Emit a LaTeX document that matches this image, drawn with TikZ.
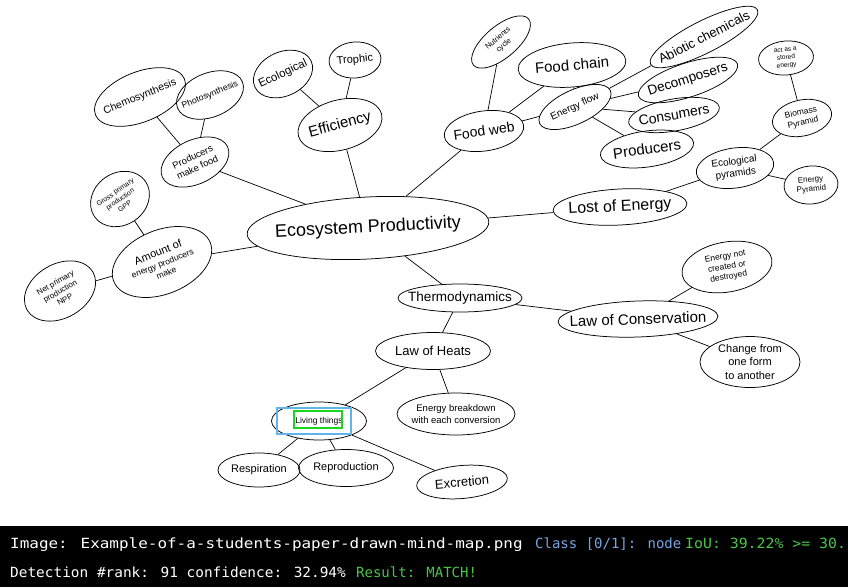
\documentclass[tikz,border=0pt]{standalone}
\usepackage{fontspec}
\setmainfont{Liberation Sans}
\newfontfamily\barfont{DejaVu Sans Mono}
\newfontfamily\barwide[FakeStretch=1.14]{DejaVu Sans Mono}
\newfontfamily\barmid[FakeStretch=1.06]{DejaVu Sans Mono}
\newfontfamily\barlow[FakeStretch=1.03]{DejaVu Sans Mono}
\usetikzlibrary{shapes.geometric}
\definecolor{boxblue}{RGB}{95,180,235}
\definecolor{boxgreen}{RGB}{25,215,25}
\definecolor{txtblue}{RGB}{120,165,225}
\definecolor{txtgreen}{RGB}{70,200,70}
\tikzset{
  bub/.style={draw, ellipse, inner sep=0pt, line width=0.75pt},
  lab/.style={align=center, inner sep=0pt},
  fs/.style={font={\pgfmathsetmacro\bsk{#1*1.2}\fontsize{#1}{\bsk}\selectfont}},
  con/.style={line width=0.7pt},
  bartxt/.style={anchor=base west, inner sep=0pt, font=\barfont\fontsize{14}{16}\selectfont},
}
% name, x, y, width, height, rotation, font size, text
\newcommand\bubble[8]{%
  \node[bub, minimum width=#4, minimum height=#5, rotate=#6] (#1) at (#2,#3) {};
  \node[lab, fs=#7, rotate=#6] (#1-t) at (#1) {#8};}
\begin{document}
\begin{tikzpicture}[x=1pt,y=-1pt]
\useasboundingbox (0,0) rectangle (848,587);
\fill[white] (0,0) rectangle (848,587);

\bubble{ep}{368}{228}{242}{62}{3}{18}{Ecosystem Productivity}
\bubble{eff}{340}{125}{86}{50}{15}{15}{Efficiency}
\bubble{ecol}{283}{74}{62}{44}{25}{11.5}{Ecological}
\bubble{tro}{355}{60}{52}{36}{5}{11}{Trophic}
\bubble{pmf}{195}{162}{72}{44}{25}{9.5}{Producers\\make food}
\bubble{chem}{140}{97}{96}{50}{22}{10.5}{Chemosynthesis}
\bubble{photo}{210}{95}{70}{44}{22}{8.8}{Photosynthesis}
\bubble{gpp}{120}{199}{62}{52}{35}{7}{Gross primary\\production\\GPP}
\bubble{amt}{162}{262}{104}{64}{22}{8.5}{{\fontsize{11}{13}\selectfont Amount of}\\[1pt]energy producers\\make}
\bubble{npp}{60}{291}{76}{54}{30}{8}{Net primary\\production\\NPP}
\bubble{fw}{484}{131}{80}{40}{8}{14}{Food web}
\bubble{nut}{501}{42}{72}{32}{40}{7.5}{Nutrients\\cycle}
\bubble{fc}{572}{65}{108}{44}{5}{15}{Food chain}
\bubble{ef}{575}{107}{78}{34}{25}{10}{Energy flow}
\bubble{abio}{704}{37}{120}{32}{27}{13}{Abiotic chemicals}
\bubble{dec}{688}{80}{104}{34}{18}{13.5}{Decomposers}
\bubble{cons}{674}{115}{92}{32}{10}{14}{Consumers}
\bubble{prod}{647}{149}{94}{36}{8}{15}{Producers}
\bubble{act}{786}{58}{55}{34}{5}{6.5}{act as a\\stored\\energy}
\bubble{bio}{802}{118}{60}{36}{12}{8.5}{Biomass\\Pyramid}
\bubble{ecp}{735}{168}{78}{40}{8}{10}{Ecological\\pyramids}
\bubble{enp}{811}{185}{54}{38}{5}{8}{Energy\\Pyramid}
\bubble{lost}{620}{207}{134}{36}{3}{16}{Lost of Energy}
\bubble{thermo}{460}{298}{124}{28}{0}{13.5}{Thermodynamics}
\bubble{lcons}{638}{319}{160}{36}{2}{15}{Law of Conservation}
\bubble{enc}{727}{267}{91}{50}{10}{8.5}{Energy not\\created or\\destroyed}
\bubble{chg}{750}{362}{100}{51}{0}{11}{Change from\\one form\\to another}
\bubble{heat}{433}{351}{115}{37}{0}{13}{Law of Heats}
\bubble{ebd}{456}{414}{118}{42}{0}{9.5}{Energy breakdown\\with each conversion}
\bubble{liv}{319}{421}{95}{38}{0}{8.5}{Living things}
\bubble{resp}{259}{470}{82}{34}{0}{11}{Respiration}
\bubble{repr}{346}{468}{95}{37}{0}{11}{Reproduction}
\bubble{excr}{462}{482}{91}{33}{5}{13}{Excretion}

\begin{scope}[con]
\draw (ep) -- (eff);
\draw (ep) -- (fw);
\draw (ep) -- (pmf);
\draw (ep) -- (amt);
\draw (ep) -- (lost);
\draw (ep) -- (thermo);
\draw (eff) -- (ecol);
\draw (eff) -- (tro);
\draw (pmf) -- (chem);
\draw (pmf) -- (photo);
\draw (amt) -- (gpp);
\draw (amt) -- (npp);
\draw (fw) -- (nut);
\draw (fw) -- (fc);
\draw (fw) -- (ef);
\draw (fc) -- (ef);
\draw (ef) -- (abio);
\draw (ef) -- (dec);
\draw (ef) -- (cons);
\draw (ef) -- (prod);
\draw (lost) -- (ecp);
\draw (ecp) -- (bio);
\draw (ecp) -- (enp);
\draw (bio) -- (act);
\draw (thermo) -- (lcons);
\draw (thermo) -- (heat);
\draw (lcons) -- (enc);
\draw (lcons) -- (chg);
\draw (heat) -- (liv);
\draw (heat) -- (ebd);
\draw (liv) -- (resp);
\draw (liv) -- (repr);
\draw (liv) -- (excr);
\end{scope}

% detection overlay boxes
\node[draw=boxblue, line width=2.8pt, inner sep=0pt, minimum width=74, minimum height=26] (bluebox) at (314,421) {};
\node[draw=boxgreen, line width=2.8pt, inner sep=0pt, minimum width=48, minimum height=17] (greenbox) at (318,419.5) {};

% bottom status bar
\fill[black] (0,526) rectangle (848,587);
\begin{scope}
\clip (0,526) rectangle (848,587);
\node[bartxt, text=white, font=\barwide\fontsize{14}{16}\selectfont] (l1a) at (10,548) {Image: Example-of-a-students-paper-drawn-mind-map.png};
\node[bartxt, text=txtblue] (l1b) at (535,548) {Class [0/1]: node};
\node[bartxt, text=txtgreen, font=\barmid\fontsize{14}{16}\selectfont] (l1c) at (685,548) {IoU: 39.22\% >= 30.};
\node[bartxt, text=white, font=\barlow\fontsize{14}{16}\selectfont] (l2a) at (10,577) {Detection \#rank: 91 confidence: 32.94\%};
\node[bartxt, text=txtgreen] (l2b) at (356,577) {Result: MATCH!};
\end{scope}
\end{tikzpicture}
\end{document}
